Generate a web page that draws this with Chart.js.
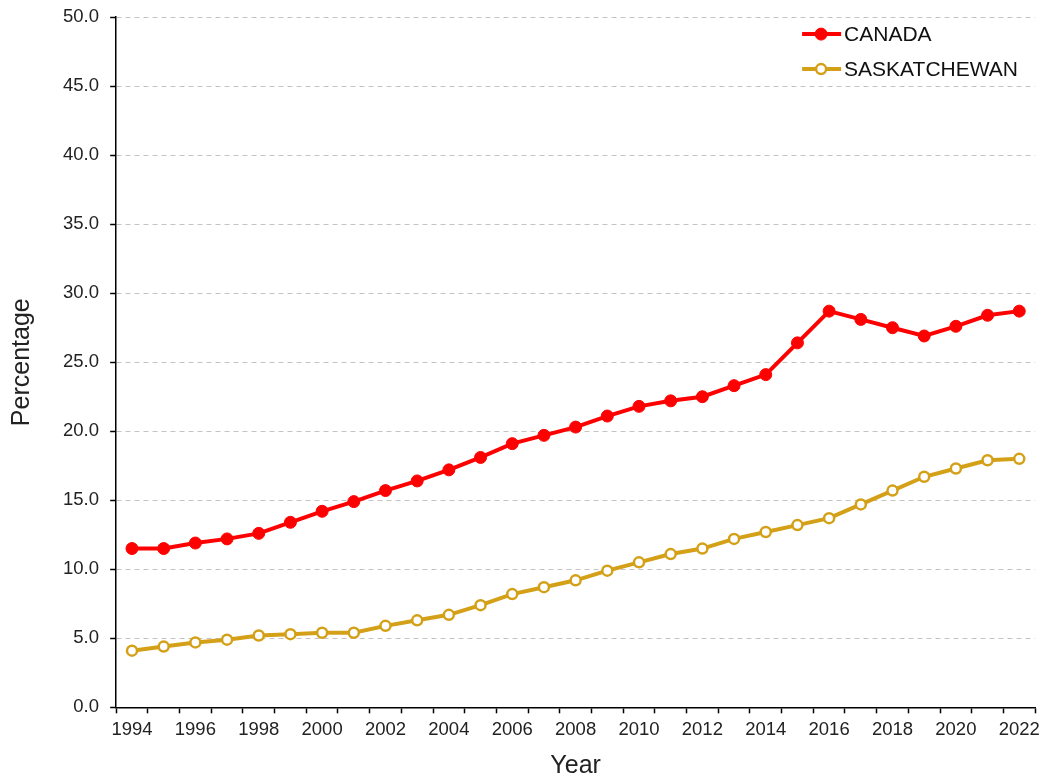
<!DOCTYPE html>
<html lang="en">
<head>
<meta charset="UTF-8">
<title>Canada vs Saskatchewan</title>
<script src="https://cdn.jsdelivr.net/npm/chart.js"></script>
<style>
  body { margin: 0; background: #fff; }
  #box { width: 1046px; height: 780px; }
</style>
</head>
<body>
<div id="box"><canvas id="grafico"></canvas></div>
<script>
    // dados
    const anos = ['1994', '1995', '1996', '1997', '1998', '1999', '2000', '2001', '2002', '2003',
        '2004', '2005', '2006', '2007', '2008', '2009', '2010', '2011', '2012', '2013',
        '2014', '2015', '2016', '2017', '2018', '2019', '2020', '2021', '2022'];
    const canada = [11.5, 11.5, 11.9, 12.2, 12.6, 13.4, 14.2, 14.9, 15.7, 16.4,
        17.2, 18.1, 19.1, 19.7, 20.3, 21.1, 21.8, 22.2, 22.5, 23.3,
        24.1, 26.4, 28.7, 28.1, 27.5, 26.9, 27.6, 28.4, 28.7];
    const saskatchewan = [4.1, 4.4, 4.7, 4.9, 5.2, 5.3, 5.4, 5.4, 5.9, 6.3,
        6.7, 7.4, 8.2, 8.7, 9.2, 9.9, 10.5, 11.1, 11.5, 12.2,
        12.7, 13.2, 13.7, 14.7, 15.7, 16.7, 17.3, 17.9, 18.0];
    const yMin = 0, yMax = 50, yPasso = 5;

    const fonte = "'Liberation Sans', Arial, sans-serif";
    const vermelho = '#ff0000';
    const dourado = '#d4a017';

    // legenda desenhada dentro da área do gráfico
    const legendaInterna = {
        id: 'legendaInterna',
        afterDatasetsDraw(chart) {
            const ctx = chart.ctx;
            const area = chart.chartArea;
            ctx.save();
            chart.data.datasets.forEach((ds, i) => {
                const y = area.top + 17 + i * 35;
                const x0 = area.right - 233;
                ctx.strokeStyle = ds.borderColor;
                ctx.lineWidth = ds.borderWidth;
                ctx.beginPath();
                ctx.moveTo(x0, y);
                ctx.lineTo(x0 + 39, y);
                ctx.stroke();
                ctx.beginPath();
                ctx.arc(x0 + 19, y, ds.pointRadius, 0, Math.PI * 2);
                ctx.fillStyle = ds.pointBackgroundColor;
                ctx.fill();
                ctx.lineWidth = ds.pointBorderWidth;
                ctx.strokeStyle = ds.pointBorderColor;
                ctx.stroke();
                ctx.fillStyle = '#111';
                ctx.font = '21px ' + fonte;
                ctx.textBaseline = 'middle';
                ctx.textAlign = 'left';
                ctx.fillText(ds.label, x0 + 42, y + 1);
            });
            ctx.restore();
        }
    };

    const ctx = document.getElementById('grafico').getContext('2d');
    new Chart(ctx, {
        type: 'line',
        data: {
            labels: anos,
            datasets: [{
                label: 'CANADA',
                data: canada,
                borderColor: vermelho,
                backgroundColor: vermelho,
                borderWidth: 4,
                pointRadius: 6,
                pointBackgroundColor: vermelho,
                pointBorderColor: vermelho,
                pointBorderWidth: 1,
                tension: 0
            }, {
                label: 'SASKATCHEWAN',
                data: saskatchewan,
                borderColor: dourado,
                backgroundColor: '#ffffff',
                borderWidth: 4,
                pointRadius: 5,
                pointBackgroundColor: '#ffffff',
                pointBorderColor: dourado,
                pointBorderWidth: 2.5,
                tension: 0
            }]
        },
        options: {
            responsive: true,
            maintainAspectRatio: false,
            animation: false,
            layout: { padding: { top: 0, right: 10, left: 0, bottom: 0 } },
            plugins: {
                legend: { display: false },
                tooltip: { enabled: false }
            },
            scales: {
                x: {
                    type: 'category',
                    offset: true,
                    grid: {
                        offset: true,
                        drawOnChartArea: false,
                        drawTicks: true,
                        tickLength: 6,
                        tickColor: '#000',
                        tickWidth: 1.5
                    },
                    border: { color: '#000', width: 1.5 },
                    ticks: {
                        autoSkip: false,
                        maxRotation: 0,
                        padding: 6,
                        color: '#222',
                        font: { family: fonte, size: 18.5 },
                        // só anos pares têm rótulo, mas todos têm marca
                        callback: function (v, i) {
                            return i % 2 === 0 ? this.getLabelForValue(v) : '';
                        }
                    },
                    title: {
                        display: true,
                        text: 'Year',
                        color: '#222',
                        font: { family: fonte, size: 25, lineHeight: 1.1 },
                        padding: { top: 5, bottom: 0 }
                    }
                },
                y: {
                    min: yMin,
                    max: yMax,
                    grid: {
                        color: '#c4c4c4',
                        lineWidth: 1,
                        tickLength: 6,
                        tickColor: '#000',
                        tickWidth: 1.5,
                        tickBorderDash: []
                    },
                    border: { color: '#000', width: 1.5, dash: [5, 4] },
                    ticks: {
                        stepSize: yPasso,
                        padding: 6,
                        color: '#222',
                        font: { family: fonte, size: 18.5 },
                        // espaço no fim afasta o rótulo do eixo
                        callback: v => v.toFixed(1) + ' '
                    },
                    title: {
                        display: true,
                        text: 'Percentage',
                        color: '#222',
                        font: { family: fonte, size: 25 },
                        padding: { top: 7, bottom: 20 }
                    }
                }
            }
        },
        plugins: [legendaInterna]
    });
</script>
</body>
</html>
